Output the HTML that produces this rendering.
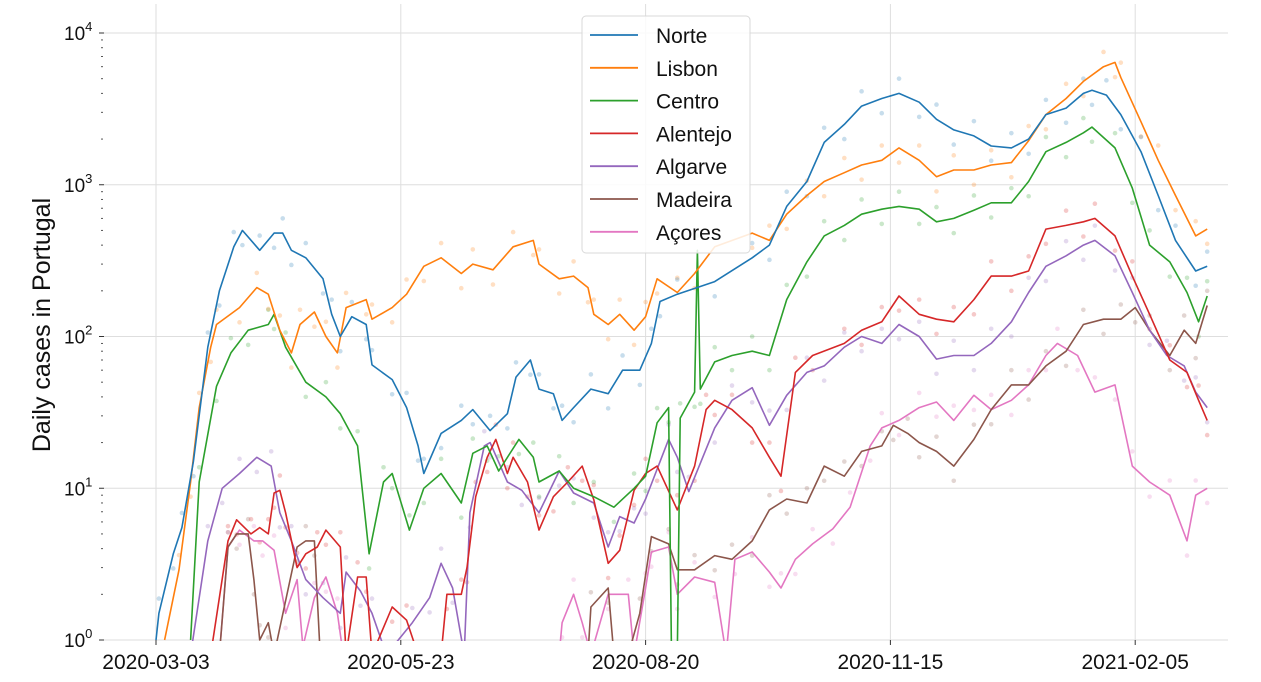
<!DOCTYPE html>
<html><head><meta charset="utf-8"><style>
body{margin:0;background:#fff;}
svg{display:block;font-family:"Liberation Sans","DejaVu Sans",sans-serif;}
</style></head><body>
<svg id="chart" width="1261" height="682" viewBox="0 0 1261 682" xmlns="http://www.w3.org/2000/svg">
<defs><clipPath id="plotclip"><rect x="100" y="4" width="1130" height="637"/></clipPath></defs>
<g id="grid"></g>
<g id="yaxis"></g>
<g id="xaxis"></g>
<text transform="translate(50,325) rotate(-90)" text-anchor="middle" font-size="25" fill="#111">Daily cases in Portugal</text>
<g id="dots" clip-path="url(#plotclip)"></g>
<g id="lines" clip-path="url(#plotclip)"></g>
<g id="legend"></g>
</svg>
<script>
const xTickDays=[0,85,170,255,340];
const xTickLabels=["2020-03-03","2020-05-23","2020-08-20","2020-11-15","2021-02-05"];
const yTickExps=[0,1,2,3,4];
const seriesNames=["Norte","Lisbon","Centro","Alentejo","Algarve","Madeira","Açores"];
const seriesColors=["#1f77b4","#ff7f0e","#2ca02c","#d62728","#9467bd","#8c564b","#e377c2"];
const norteDays=[0,1,6,9,13,18,22,27,30,36,41,44,47,52,58,61,64,68,73,75,82,87,91,93,99,106,110,116,122,125,130,133,138,141,145,151,157,162,168,172,175,181,194,207,213,219,226,232,239,245,252,258,265,271,277,284,290,297,303,309,316,322,325,330,335,342,348,354,361,365];
const norteVals=[1,1.5,3.7,5.5,15,85,200,390,500,370,480,480,370,330,240,140,100,135,120,65,52,34,19,12.5,23,28,33,24,31,54,70,45,42,28,34,45,42,60,60,90,170,190,230,330,400,720,1050,1900,2500,3300,3700,4000,3500,2700,2300,2100,1800,1750,2000,2900,3200,4000,4200,3900,2900,1650,850,430,270,290];
const lisbonDays=[3,8,12,15,19,21,29,35,39,43,47,50,55,59,63,66,73,75,82,87,93,99,106,110,117,124,131,133,140,145,150,152,157,161,166,170,174,181,187,194,207,213,219,226,232,239,245,252,258,265,271,277,284,290,297,303,309,316,322,329,333,335,342,348,354,361,365];
const lisbonVals=[1,2.9,11,34,85,120,155,210,190,110,78,120,145,100,78,155,175,130,155,190,290,330,260,300,275,390,430,300,240,250,210,140,120,140,110,135,240,195,260,390,480,430,640,850,1050,1200,1350,1450,1750,1450,1130,1250,1250,1350,1400,1950,2900,3700,4800,6000,6400,5100,2600,1450,850,460,510];
const centroDays=[12,15,21,26,32,39,41,45,52,59,64,70,74,79,82,88,93,99,106,110,115,119,126,131,133,140,145,152,159,166,170,174,178,179,181,182,187,188,189,194,200,207,213,219,226,232,239,245,252,258,265,271,277,284,290,297,303,309,316,322,325,333,339,345,352,358,362,365];
const centroVals=[1,11,47,78,110,120,140,85,50,40,31,19,3.7,11,12.5,5.3,10,12.5,8,17,19,13,21,16,11,13,10,8.8,7.5,10,12,27,34,0.5,0.5,29,43,370,45,68,75,80,75,175,310,460,540,640,690,720,690,570,600,680,760,760,1050,1650,1900,2200,2400,1750,950,400,310,195,125,185];
const alentejoDays=[19,25,28,33,36,39,41,43,45,49,52,56,59,64,66,70,73,75,82,87,91,99,101,106,108,111,115,118,122,124,129,133,138,143,148,152,157,161,166,170,174,181,187,191,194,200,207,213,217,222,228,239,245,252,258,265,271,277,284,290,297,303,309,316,322,326,333,339,345,352,358,362,365];
const alentejoVals=[0.5,4.5,6.2,5,5.5,5,9.3,9.7,6.9,3,3.7,4.1,5.3,4.1,0.5,2.6,2.6,0.5,1.65,1.35,0.5,0.5,2,2,3,8.8,16,21,12.5,16,11,5.3,8.8,11,14,8.4,3.2,3.9,9.7,12.5,14,7.2,14,33,38,33,25,16,12,58,75,90,110,125,185,140,130,125,175,250,250,270,510,540,570,600,460,250,140,70,58,38,28];
const algarveDays=[12,18,23,29,35,40,43,47,52,58,64,66,71,75,80,89,95,99,103,107,109,114,116,122,127,133,140,145,152,157,161,166,170,178,181,185,194,200,207,213,219,226,232,239,245,252,258,265,271,277,284,290,297,303,309,316,322,326,333,339,345,351,357,361,365];
const algarveVals=[0.5,4.5,10,12.5,16,14,6.9,4.5,2.5,1.9,1.5,2.8,2.1,1.5,0.5,1.3,1.9,3.2,2.2,0.5,6.9,19,20,11,9.7,6.9,13,9.3,8,4.1,6.5,5.9,8.5,21,16,9.5,25,38,46,26,41,58,64,85,100,90,120,100,71,75,75,90,125,195,290,340,400,430,340,195,110,75,64,43,34];
const madeiraDays=[22,25,28,32,34,36,39,41,49,52,55,57,150,151,157,159,164,168,172,178,181,187,194,200,207,213,219,226,232,239,245,252,256,261,265,271,277,284,290,297,303,309,316,322,329,335,340,345,352,357,361,365];
const madeiraVals=[0.5,4.1,5,5,2.5,1,1.3,0.5,4.1,4.5,4.5,0.5,0.5,1.65,2.2,0.5,0.5,1.5,4.8,4.3,2.9,2.9,3.6,3.4,4.5,7.2,8.5,8,14,12,17.5,19,26,23,20,17.5,14,21,33,48,48,64,80,120,130,130,155,110,75,110,90,160];
const acoresDays=[22,25,29,34,37,41,45,49,51,55,59,63,65,140,141,145,148,151,157,164,166,170,172,178,181,187,194,198,201,207,213,217,222,228,235,241,248,252,258,265,271,277,284,290,297,303,309,313,320,326,333,339,345,352,358,361,365];
const acoresVals=[0.5,4.1,5.3,4.5,4.5,3.9,1.5,2.5,0.9,1.9,2.6,1.5,0.5,0.5,1.3,2,1.3,0.5,2,2,0.5,2.2,3.8,4.1,2,2.6,2.4,0.5,3.4,3.8,2.8,2.2,3.4,4.3,5.4,7.5,19,25,28,34,37,28,41,33,38,48,75,90,75,43,48,14,11,9,4.5,9,10];
const allDays=[norteDays,lisbonDays,centroDays,alentejoDays,algarveDays,madeiraDays,acoresDays];
const allVals=[norteVals,lisbonVals,centroVals,alentejoVals,algarveVals,madeiraVals,acoresVals];

const NS="http://www.w3.org/2000/svg";
const X0=156, PXD=2.88, Y0=640, PXDEC=151.75;
function xs(d){return X0+d*PXD;}
function ys(v){return Y0-Math.log10(Math.max(v,0.8))*PXDEC;}
function mk(tag,attrs,parent){const e=document.createElementNS(NS,tag);for(const k in attrs)e.setAttribute(k,attrs[k]);parent.appendChild(e);return e;}
const grid=document.getElementById('grid'),yax=document.getElementById('yaxis'),xax=document.getElementById('xaxis'),lines=document.getElementById('lines'),dots=document.getElementById('dots'),leg=document.getElementById('legend');
yTickExps.forEach(e=>{
  const y=ys(Math.pow(10,e));
  const g=mk('line',{x1:104,x2:1228,y1:y,y2:y,stroke:'#dedede','stroke-width':1},grid);
  
  
  const t=mk('text',{x:64,y:y+7,'font-size':19,fill:'#111'},yax);
  
  
  t.textContent='10';
  const s=mk('tspan',{dy:-9,'font-size':13},t);s.textContent=String(e);
  mk('line',{x1:99,x2:104,y1:y,y2:y,stroke:'#333','stroke-width':1},yax);
  if(e<4){for(let m=2;m<10;m++){const ym=ys(m*Math.pow(10,e));mk('line',{x1:101,x2:103,y1:ym,y2:ym,stroke:'#555','stroke-width':1},yax);}}
});
xTickDays.forEach((d,i)=>{
  const x=xs(d);
  const g=mk('line',{x1:x,x2:x,y1:4,y2:640,stroke:'#dedede','stroke-width':1},grid);
  
  
  mk('line',{x1:x,x2:x,y1:640,y2:645,stroke:'#333','stroke-width':1},xax);
  const t=mk('text',{x:x,y:669,'font-size':21,'text-anchor':'middle',fill:'#111'},xax);
  
  
  t.textContent=xTickLabels[i];
});
for(let s=allDays.length-1;s>=0;s--){
  allDays[s].forEach((d,j)=>{
    if(allVals[s][j]<1)return;
    const c=mk('circle',{cx:xs(d),cy:ys(allVals[s][j]*(j%2?1.25:0.8)),r:2.3,fill:seriesColors[s],'fill-opacity':0.25},dots);
    
    
  });
}
for(let s=allDays.length-1;s>=0;s--){
  const pts=allDays[s].map((d,j)=>xs(d).toFixed(1)+','+ys(allVals[s][j]).toFixed(1)).join(' ');
  const p=mk('polyline',{points:pts,fill:'none',stroke:seriesColors[s],'stroke-width':1.6,'stroke-linejoin':'round'},lines);
  
  
}
const box=mk('rect',{x:582,y:16,width:168,height:237,rx:4,fill:'#fff','fill-opacity':0.85,stroke:'#d8d8d8'},leg);


seriesNames.forEach((n,i)=>{
  const y=35+i*32.8;
  const l=mk('line',{x1:590,x2:638,y1:y,y2:y,stroke:seriesColors[i],'stroke-width':1.8},leg);
  
  
  const t=mk('text',{x:656,y:y+8,'font-size':21,fill:'#111'},leg);
  
  
  t.textContent=n;
});
</script>
</body></html>
